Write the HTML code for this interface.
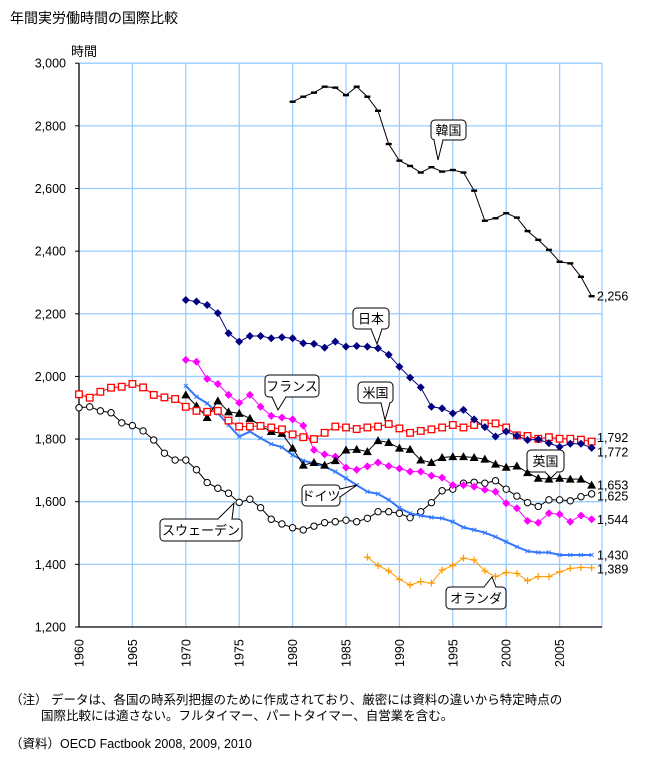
<!DOCTYPE html>
<html><head><meta charset="utf-8">
<style>
body{margin:0;background:#fff;}
svg text{font-family:"Liberation Sans","Noto Sans CJK JP",sans-serif;}
</style></head>
<body>
<svg id="chart" width="655" height="763" viewBox="0 0 655 763" xmlns="http://www.w3.org/2000/svg">
<text x="10" y="23" font-size="14" fill="#000">年間実労働時間の国際比較</text>
<text x="71" y="56" font-size="13" fill="#000">時間</text>
<g id="grid"></g>
<g id="axes"></g>
<g id="series"></g>
<g id="callouts"></g>
<text x="10" y="704" font-size="12.5">（注）&#160;データは、各国の時系列把握のために作成されており、厳密には資料の違いから特定時点の</text>
<text x="41" y="720" font-size="12.5">国際比較には適さない。フルタイマー、パートタイマー、自営業を含む。</text>
<text x="10" y="748" font-size="12.5">（資料）OECD Factbook 2008, 2009, 2010</text>
</svg>
<script>
const yTicks=[1200,1400,1600,1800,2000,2200,2400,2600,2800,3000];
const yTickLabels=["1,200","1,400","1,600","1,800","2,000","2,200","2,400","2,600","2,800","3,000"];
const xTicks=[1960,1965,1970,1975,1980,1985,1990,1995,2000,2005];
const koreaStart=1980;
const korea=[2877,2893,2906,2925,2922,2898,2925,2893,2848,2742,2689,2672,2651,2668,2654,2659,2651,2593,2497,2505,2521,2507,2464,2436,2404,2366,2361,2318,2256];
const japanStart=1970;
const japan=[2244,2239,2228,2202,2138,2111,2129,2129,2122,2125,2122,2106,2104,2092,2111,2095,2097,2095,2090,2069,2031,1996,1965,1903,1898,1882,1893,1863,1838,1808,1824,1810,1797,1799,1787,1775,1785,1785,1772];
const usaStart=1960;
const usa=[1943,1932,1951,1964,1967,1976,1965,1941,1933,1928,1903,1890,1887,1890,1859,1840,1840,1842,1837,1831,1815,1806,1800,1820,1840,1837,1832,1837,1840,1848,1834,1820,1826,1831,1837,1845,1837,1845,1850,1850,1837,1812,1810,1801,1806,1801,1801,1798,1792];
const franceStart=1970;
const france=[2053,2047,1992,1976,1941,1916,1941,1903,1874,1869,1863,1843,1765,1751,1744,1709,1702,1713,1725,1714,1706,1696,1696,1683,1677,1653,1653,1648,1638,1632,1595,1579,1539,1533,1563,1560,1536,1556,1544];
const ukStart=1970;
const uk=[1941,1906,1869,1922,1887,1882,1866,1842,1824,1818,1771,1717,1725,1717,1731,1765,1767,1760,1795,1789,1771,1767,1733,1725,1741,1744,1744,1741,1736,1720,1710,1714,1693,1675,1672,1675,1672,1672,1653];
const germanyStart=1970;
const germany=[1970,1935,1914,1882,1845,1808,1824,1803,1784,1774,1749,1731,1723,1712,1696,1675,1653,1632,1625,1606,1580,1563,1556,1550,1547,1536,1518,1510,1501,1488,1472,1456,1442,1438,1438,1430,1430,1430,1430];
const swedenStart=1960;
const sweden=[1900,1903,1890,1884,1852,1843,1826,1797,1755,1733,1733,1702,1661,1643,1627,1598,1608,1581,1544,1529,1517,1510,1522,1533,1536,1541,1536,1547,1568,1568,1563,1549,1568,1597,1635,1640,1659,1662,1659,1667,1640,1618,1597,1585,1606,1606,1603,1616,1625];
const nethStart=1987;
const neth=[1423,1396,1379,1352,1334,1345,1340,1382,1396,1420,1414,1379,1361,1374,1371,1348,1361,1361,1376,1387,1390,1389];
const endLabels=["2,256","1,792","1,772","1,653","1,625","1,544","1,430","1,389"];

const NS="http://www.w3.org/2000/svg";
const X0=79,XPY=10.68,Y0=627,YTOP=63.2;
function xs(yr){return X0+(yr-1960)*XPY;}
function ys(v){return Y0-(v-1200)*(Y0-YTOP)/1800;}
function mk(tag,attrs,parent){const e=document.createElementNS(NS,tag);for(const k in attrs)e.setAttribute(k,attrs[k]);parent.appendChild(e);return e;}
const grid=document.getElementById('grid'),axes=document.getElementById('axes'),ser=document.getElementById('series'),cal=document.getElementById('callouts');
const RIGHT=602;
yTicks.forEach((v,i)=>{
  if(i>0){const l=mk('line',{x1:X0,x2:RIGHT,y1:ys(v),y2:ys(v),stroke:'#99ccff','stroke-width':1.3},grid);
  
  }
  const tk=mk('line',{x1:X0-4,x2:X0,y1:ys(v),y2:ys(v),stroke:'#000'},axes);
  
  
  const t=mk('text',{x:X0-13,y:ys(v)+4.5,'text-anchor':'end','font-size':12.5},axes);
  t.textContent=yTickLabels[i];
  
  
});
xTicks.forEach(yr=>{
  if(yr>1960){const l=mk('line',{x1:xs(yr),x2:xs(yr),y1:YTOP,y2:Y0,stroke:'#99ccff','stroke-width':1.3},grid);
  
  }
  const t=mk('text',{x:0,y:0,'font-size':12.5,transform:`translate(${xs(yr)+4.5},${Y0+40}) rotate(-90)`},axes);
  t.textContent=String(yr);
  
  
});
{const l=mk('line',{x1:RIGHT,x2:RIGHT,y1:YTOP,y2:Y0,stroke:'#99ccff','stroke-width':1.3},grid);

}
{const a=mk('path',{d:`M${X0} ${YTOP}V${Y0}H${RIGHT}`,fill:'none',stroke:'#000','stroke-width':1.3},axes);

}

function marker(type,x,y,color,g){
  let e;
  if(type==='dash')e=mk('rect',{x:x-3,y:y-1.2,width:6,height:2.4,fill:'#000'},g);
  else if(type==='diamond')e=mk('path',{d:`M${x} ${y-4}L${x+4} ${y}L${x} ${y+4}L${x-4} ${y}Z`,fill:color},g);
  else if(type==='square')e=mk('rect',{x:x-3.3,y:y-3.3,width:6.6,height:6.6,fill:'#fff',stroke:color,'stroke-width':1.3},g);
  else if(type==='circfill')e=mk('path',{d:`M${x} ${y-4}L${x+4} ${y}L${x} ${y+4}L${x-4} ${y}Z`,fill:color},g);
  else if(type==='tri')e=mk('path',{d:`M${x} ${y-4.5}L${x+4.5} ${y+3.5}L${x-4.5} ${y+3.5}Z`,fill:'#000'},g);
  else if(type==='x')e=mk('path',{d:`M${x-2} ${y-2}L${x+2} ${y+2}M${x+2} ${y-2}L${x-2} ${y+2}`,stroke:color,'stroke-width':1},g);
  else if(type==='circ')e=mk('circle',{cx:x,cy:y,r:3.2,fill:'#fff',stroke:'#000','stroke-width':1},g);
  else if(type==='plus')e=mk('path',{d:`M${x-3.5} ${y}H${x+3.5}M${x} ${y-3.5}V${y+3.5}`,stroke:color,'stroke-width':1.2},g);
  
  
}
function series(name,start,vals,color,type,lw){
  const g=mk('g',{},ser);
  
  
  const pts=vals.map((v,i)=>[xs(start+i),ys(v)]);
  const p=mk('polyline',{points:pts.map(q=>q.join(',')).join(' '),fill:'none',stroke:color,'stroke-width':lw},g);
  
  
  pts.forEach(q=>marker(type,q[0],q[1],color,g));
}
series('sweden',swedenStart,sweden,'#000','circ',1);
series('germany',germanyStart,germany,'#3377ff','x',2);
series('netherlands',nethStart,neth,'#ff9900','plus',1);
series('france',franceStart,france,'#ff00ff','circfill',1);
series('uk',ukStart,uk,'#000','tri',1);
series('usa',usaStart,usa,'#ff0000','square',1);
series('japan',japanStart,japan,'#000080','diamond',1);
series('korea',koreaStart,korea,'#000','dash',1);

const endVals=[korea[korea.length-1],usa[usa.length-1],japan[japan.length-1],uk[uk.length-1],sweden[sweden.length-1],france[france.length-1],germany[germany.length-1],neth[neth.length-1]];
const endOffsets=[0,-4,4,0,2,0,0,1];
endVals.forEach((v,i)=>{
  const t=mk('text',{x:597,y:ys(v)+4.5+endOffsets[i],'font-size':12.5},axes);
  t.textContent=endLabels[i];
  
  
});

function callout(name,label,x,y,w,h,tx,ty,bx1,bx2){
  const g=mk('g',{},cal);
  
  
  const by=ty>y+h?y+h:y;
  mk('rect',{x:x,y:y,width:w,height:h,rx:4,fill:'#fff',stroke:'#000','stroke-width':1},g);
  mk('path',{d:`M${bx1} ${by}L${tx} ${ty}L${bx2} ${by}`,fill:'#fff',stroke:'#000','stroke-width':1},g);
  mk('line',{x1:bx1+0.8,x2:bx2-0.8,y1:by,y2:by,stroke:'#fff','stroke-width':1.6},g);
  const t=mk('text',{x:x+w/2,y:y+h/2+5,'text-anchor':'middle','font-size':13},g);
  t.textContent=label;
}
callout('korea','韓国',431,120,35,20,438,160,434,443);
callout('japan','日本',353,308,36,21,377,344,371,382);
callout('france','フランス',265,375,54,22,278,410,272,286);
callout('usa','米国',358,382,35,21,385,420,381,390);
callout('uk','英国',527,450,37,22,551,478,545,557);
callout('sweden','スウェーデン',160,519,82,22,234,503,218,232);
callout('netherlands','オランダ',446,587,60,22,492,577,484,496);
{const g=mk('g',{},cal);


mk('rect',{x:302,y:485,width:38,height:21,rx:4,fill:'#fff',stroke:'#000'},g);
mk('path',{d:'M340 489L357 485L340 497',fill:'#fff',stroke:'#000'},g);
mk('line',{x1:340,x2:340,y1:490,y2:496,stroke:'#fff','stroke-width':1.6},g);
const t=mk('text',{x:321,y:500.5,'text-anchor':'middle','font-size':13},g);t.textContent='ドイツ';}
</script>
</body></html>
